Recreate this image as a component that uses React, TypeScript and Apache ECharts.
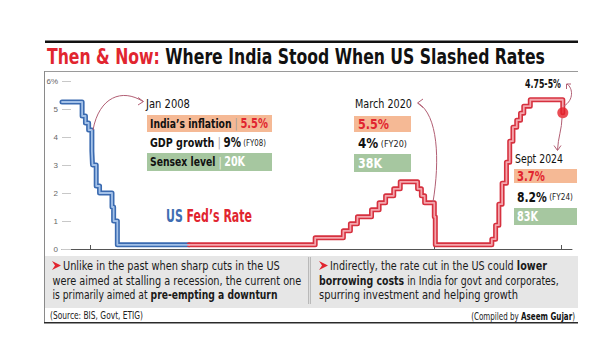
import { useEffect, useRef } from 'react';
import * as echarts from 'echarts';

// ---------- data ----------
const fedDates = [
  '2007-01-01', '2007-09-18', '2007-10-31', '2007-12-11', '2008-01-22', '2008-01-30',
  '2008-03-18', '2008-04-30', '2008-10-08', '2008-10-29', '2008-12-16', '2011-07-01',
  '2015-12-16', '2016-12-14', '2017-03-15', '2017-06-14', '2017-12-13', '2018-03-21',
  '2018-06-13', '2018-09-26', '2018-12-19', '2019-07-31', '2019-09-18', '2019-10-30',
  '2020-03-03', '2020-03-16', '2022-03-16', '2022-05-04', '2022-06-15', '2022-07-27',
  '2022-09-21', '2022-11-02', '2022-12-14', '2023-02-01', '2023-03-22', '2023-05-03',
  '2023-07-26', '2024-09-18',
];
const fedRates = [
  5.25, 4.75, 4.5, 4.25, 3.5, 3.0,
  2.25, 2.0, 1.5, 1.0, 0.15, 0.15,
  0.4, 0.65, 0.9, 1.15, 1.4, 1.65,
  1.9, 2.15, 2.4, 2.15, 1.9, 1.65,
  1.15, 0.15, 0.35, 0.85, 1.6, 2.35,
  3.1, 3.85, 4.35, 4.6, 4.85, 5.1,
  5.33, 4.87,
];
const colourSwitchDate = '2011-07-01';
const cutPoint: [string, number] = ['2024-09-18', 4.87];
const eventTicks = ['2008-01-01', '2020-03-01', '2024-09-01'];
const xMin = '2007-01-01';
const xMax = '2025-01-15';
const yMax = 6;

const titleRed = 'Then & Now:';
const titleBlack = 'Where India Stood When US Slashed Rates';
const seriesLabel = ['US', 'Fed’s Rate'];
const events = [
  { date: 'Jan 2008', inflation: '5.5%', gdp: '9%', fy: '(FY08)', sensex: '20K' },
  { date: 'March 2020', inflation: '5.5%', gdp: '4%', fy: '(FY20)', sensex: '38K' },
  { date: 'Sept 2024', inflation: '3.7%', gdp: '8.2%', fy: '(FY24)', sensex: '83K' },
];
const newRange = '4.75-5%';
const leftNote = [
  [['r', 'Unlike in the past when sharp cuts in the US']],
  [['r', 'were aimed at stalling a recession, the current one']],
  [['r', 'is primarily aimed at '], ['b', 'pre-empting a downturn']],
];
const rightNote = [
  [['r', 'Indirectly, the rate cut in the US could '], ['b', 'lower']],
  [['b', 'borrowing costs'], ['r', ' in India for govt and corporates,']],
  [['r', 'spurring investment and helping growth']],
];
const sourceText = '(Source: BIS, Govt, ETIG)';
const compiledText = ['(Compiled by ', 'Aseem Gujar', ')'];

// ---------- helpers ----------
const NARROW = '"Liberation Sans Narrow", "DejaVu Sans Condensed", "Arial Narrow", sans-serif';
const RED = '#e1252f';
const BLUE = '#3f6db2';
const PEACH = '#f5b995';
const GREEN = '#a6c7a0';
const ARROW = '#b25f74';

// style name -> [size, weight, colour]
const STY: Record<string, [number, string, string]> = {
  t: [13, 'normal', '#111'],
  b: [13, 'bold', '#111'],
  s: [12, 'normal', '#9a9a9a'],
  w: [12, 'normal', '#eef5ec'],
  r: [14, 'bold', RED],
  n: [14, 'bold', '#111'],
  wn: [13.5, 'bold', '#ffffff'],
  f: [9.5, 'normal', '#222'],
  nr: [13, 'normal', '#1a1a1a'],
  nb: [13, 'bold', '#1a1a1a'],
  sr: [11, 'normal', '#222'],
  sb: [11, 'bold', '#111'],
  tr: [22, 'bold', RED],
  tk: [22, 'bold', '#111'],
  fu: [17, 'bold', BLUE],
  fr: [17, 'bold', RED],
  rg: [12, 'bold', '#111'],
};

let ctx: CanvasRenderingContext2D | null = null;
function measure(segs: string[][]) {
  if (!ctx) ctx = document.createElement('canvas').getContext('2d');
  if (!ctx) return 0;
  let w = 0;
  for (const [k, t] of segs) {
    const [size, weight] = STY[k];
    ctx.font = `${weight} ${size}px ${NARROW}`;
    w += ctx.measureText(t).width;
  }
  return w;
}

function line(x: number, y: number, segs: string[][], target: number | null, align = 'left') {
  const rich: any = {};
  for (const [k] of segs) {
    const [size, weight, fill] = STY[k];
    rich[k] = { fontFamily: NARROW, fontSize: size, fontWeight: weight, fill };
  }
  const w = measure(segs);
  const scaleX = target && w > 0 ? target / w : 1;
  const text = segs.map(([k, t]) => `{${k}|${t}}`).join('');
  const [size0] = STY[segs[0][0]];
  return {
    type: 'text', x, y, scaleX, silent: true, z: 10,
    style: {
      text, rich, x: 0, y: 0,
      align, verticalAlign: 'middle', textAlign: align, textVerticalAlign: 'middle',
      fontFamily: NARROW, fontSize: size0, fill: '#111',
    },
  };
}

function bezier(x1: number, y1: number, c1x: number, c1y: number, c2x: number, c2y: number, x2: number, y2: number) {
  return {
    type: 'bezierCurve', silent: true, z: 9,
    shape: { x1, y1, cpx1: c1x, cpy1: c1y, cpx2: c2x, cpy2: c2y, x2, y2 },
    style: { stroke: ARROW, lineWidth: 1, fill: 'none' },
  };
}
function head(points: number[][]) {
  return {
    type: 'polyline', silent: true, z: 9,
    shape: { points },
    style: { stroke: ARROW, lineWidth: 1, fill: 'none' },
  };
}
function rect(x: number, y: number, w: number, h: number, fill: string, z = 1) {
  return { type: 'rect', silent: true, z, shape: { x, y, width: w, height: h }, style: { fill } };
}

function buildGraphic() {
  const g: any[] = [];
  // frame
  g.push(rect(45, 40.5, 533, 2.5, '#111'));
  g.push(rect(44, 71, 534, 1, '#9a9a9a'));
  g.push(rect(44, 71, 1, 252, '#8a8a8a'));
  g.push(rect(44, 322, 534, 1.6, '#2a2a2a'));
  // title
  g.push(line(47, 57, [['tr', titleRed], ['tk', ' ' + titleBlack]], 498));

  // bottom band
  g.push(rect(45, 256, 533, 52, '#e6e6e6'));
  g.push(rect(308, 257, 3, 47, '#b9b9b9'));
  g.push(rect(309, 257, 1, 47, '#dedede', 2));
  const bullet = (x: number, y: number) => ({
    type: 'polygon', silent: true, z: 10,
    shape: { points: [[x, y - 4.5], [x + 9, y], [x, y + 4.5], [x + 3, y]] },
    style: { fill: RED },
  });
  const note = (segs: string[][]) => segs.map(([k, t]) => [k === 'b' ? 'nb' : 'nr', t]);
  const lineY = [265.5, 280.5, 295];
  g.push(bullet(52, 265.5));
  g.push(line(63, lineY[0], note(leftNote[0]), 217));
  g.push(line(52.5, lineY[1], note(leftNote[1]), 249));
  g.push(line(52.5, lineY[2], note(leftNote[2]), 225));
  g.push(bullet(319, 265.5));
  g.push(line(330, lineY[0], note(rightNote[0]), 217));
  g.push(line(319, lineY[1], note(rightNote[1]), 240));
  g.push(line(319, lineY[2], note(rightNote[2]), 199));
  // source
  g.push(line(50, 315.5, [['sr', sourceText]], 93));
  g.push(line(575, 315.5, [['sr', compiledText[0]], ['sb', compiledText[1]], ['sr', compiledText[2]]], 104, 'right'));

  // series label
  g.push(line(166, 216, [['fu', seriesLabel[0]], ['fr', ' ' + seriesLabel[1]]], 86));

  // --- Jan 2008 ---
  const e0 = events[0];
  g.push(bezier(93, 130, 99, 97, 122, 88, 143, 101.5));
  g.push(head([[138, 97.5], [143.5, 101.5], [138, 105]]));
  g.push(line(146, 104, [['t', e0.date]], 44));
  g.push(rect(147, 115, 125, 17, PEACH));
  g.push(line(150, 123.5, [['b', 'India’s inflation '], ['s', '| '], ['r', e0.inflation]], 118));
  g.push(line(150, 142.5, [['b', 'GDP growth '], ['s', '| '], ['n', e0.gdp], ['f', ' ' + e0.fy]], 116));
  g.push(rect(147, 153, 125, 18, GREEN));
  g.push(line(150, 162, [['b', 'Sensex level '], ['w', '| '], ['wn', e0.sensex]], 95));

  // --- March 2020 ---
  const e1 = events[1];
  g.push(bezier(433, 202, 440, 160, 438, 115, 418, 103));
  g.push(head([[423, 99], [417.5, 103], [423, 107.5]]));
  g.push(line(355, 104, [['t', e1.date]], 57));
  g.push(rect(354, 116, 57, 16, PEACH));
  g.push(line(358, 124, [['r', e1.inflation]], 31));
  g.push(line(358, 143, [['n', e1.gdp], ['f', ' ' + e1.fy]], 49));
  g.push(rect(354, 154, 57, 18, GREEN));
  g.push(line(358, 163, [['wn', e1.sensex]], 24));

  // --- Sept 2024 ---
  const e2 = events[2];
  g.push(line(525, 83, [['rg', newRange]], 36));
  g.push(bezier(564, 106, 574, 100, 573, 88, 567, 84));
  g.push(head([[566.5, 89], [566.5, 84], [571, 84]]));
  g.push(bezier(562, 118, 562, 128, 558, 138, 557.5, 150));
  g.push(head([[554, 145.5], [557.5, 150.5], [561, 145.5]]));
  g.push(line(515, 159, [['t', e2.date]], 48));
  g.push(rect(514, 169, 63, 14, PEACH));
  g.push(line(517, 176.5, [['r', e2.inflation]], 28));
  g.push(line(517, 197, [['n', e2.gdp], ['f', ' ' + e2.fy]], 56));
  g.push(rect(514, 208, 63, 17, GREEN));
  g.push(line(517, 216.5, [['wn', e2.sensex]], 21));
  return g;
}

export default function App() {
  const ref = useRef<HTMLDivElement>(null);
  useEffect(() => {
    document.body.style.margin = '0';
    if (!ref.current) return;
    const chart = echarts.init(ref.current, undefined, { renderer: 'svg' });
    const pts = fedDates.map((d, i) => [d, fedRates[i]]);
    const k = fedDates.indexOf(colourSwitchDate);
    const blue = pts.slice(0, k + 1);
    const red = pts.slice(k);
    const lineSeries = (data: any[], color: string, width: number, z: number) => ({
      type: 'line', step: 'end', data, symbol: 'none', silent: true, z,
      lineStyle: { color, width, join: 'round', cap: 'round' },
    });
    chart.setOption({
      animation: false,
      backgroundColor: '#ffffff',
      grid: { left: 62, right: 28, top: 81, bottom: 104, containLabel: false, outerBoundsMode: 'none' },
      xAxis: {
        type: 'time', min: xMin, max: xMax,
        axisLine: { lineStyle: { color: '#555', width: 1 } },
        axisTick: { show: true, inside: true, length: 4, lineStyle: { color: '#555' }, customValues: eventTicks.map((d) => +new Date(d)) },
        axisLabel: { show: false },
        splitLine: { show: false },
      },
      yAxis: {
        type: 'value', min: 0, max: yMax, interval: 1,
        axisLine: { show: false },
        axisTick: { show: true, inside: true, length: 9, lineStyle: { color: '#c8c8c8' } },
        axisLabel: { fontSize: 8, color: '#666', margin: 4, formatter: (v: number) => (v === yMax ? `${v}%` : `${v}`) },
        splitLine: { show: false },
      },
      series: [
        lineSeries(blue, '#3a6ab0', 5, 2),
        lineSeries(blue, '#a3c1e8', 1.8, 3),
        lineSeries(red, '#d6313f', 5, 2),
        lineSeries(red, '#f4a6ad', 1.8, 3),
        { type: 'scatter', data: [cutPoint], symbolSize: 11, silent: true, z: 5, itemStyle: { color: '#e5202b' } },
      ],
      graphic: { elements: buildGraphic() },
    });
    return () => chart.dispose();
  }, []);
  return <div ref={ref} style={{ position: 'absolute', left: 0, top: 0, width: 600, height: 353, background: '#fff' }} />;
}
